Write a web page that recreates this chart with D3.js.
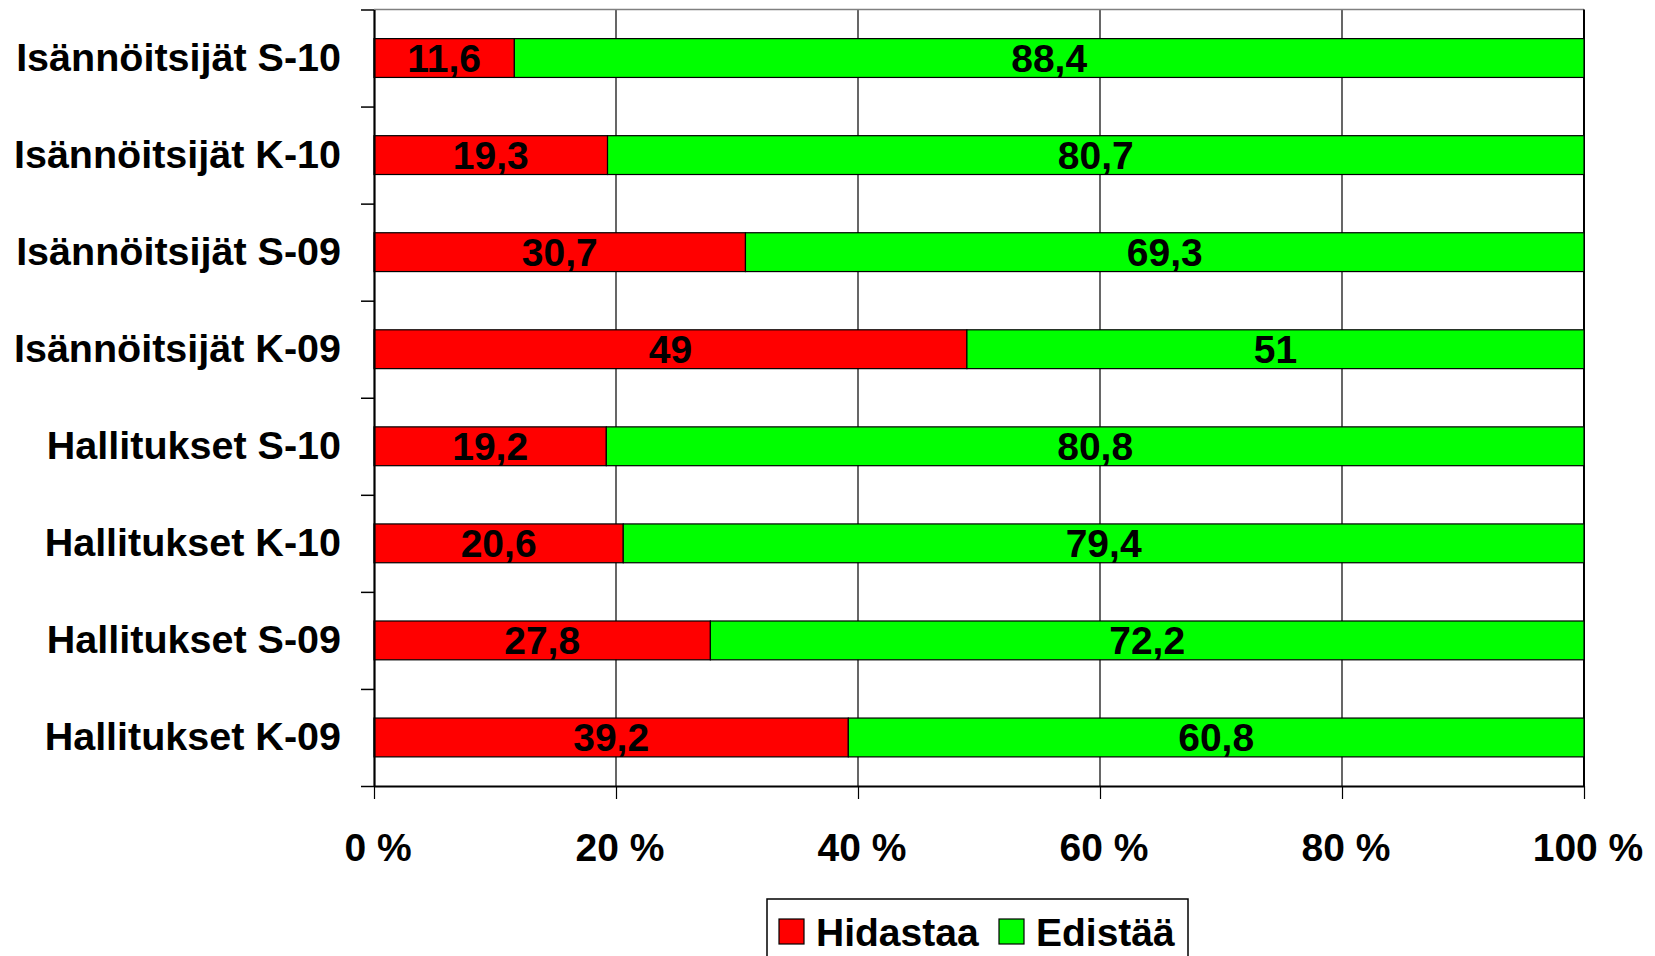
<!DOCTYPE html>
<html>
<head>
<meta charset="utf-8">
<script src="https://cdn.jsdelivr.net/npm/d3@7/dist/d3.min.js"></script>
<style>
  html, body { margin: 0; padding: 0; background: #fff; }
  svg { display: block; }
  text { font-family: "Liberation Sans", Arial, sans-serif; font-weight: bold; fill: #000; }
</style>
</head>
<body>
<svg id="chart" width="1655" height="956"></svg>
<script>
const categories = ["Isännöitsijät S-10", "Isännöitsijät K-10", "Isännöitsijät S-09", "Isännöitsijät K-09",
                    "Hallitukset S-10", "Hallitukset K-10", "Hallitukset S-09", "Hallitukset K-09"];
const hidastaa = [11.6, 19.3, 30.7, 49, 19.2, 20.6, 27.8, 39.2];
const edistaa  = [88.4, 80.7, 69.3, 51, 80.8, 79.4, 72.2, 60.8];
const seriesNames = ["Hidastaa", "Edistää"];
const seriesColors = ["#FF0000", "#00FF00"];
const xTicks = [0, 20, 40, 60, 80, 100];

(function () {
const svg = d3.select("#chart");
const pLeft = 374, pRight = 1584, pTop = 9.5, pBottom = 786;
const fs = 39, fsCat = 39.5;

const x = d3.scaleLinear().domain([0, 100]).range([pLeft, pRight]);
const y = d3.scaleBand().domain(categories).range([pTop, pBottom]).paddingInner(0.6).paddingOuter(0.3);
const yIdx = d3.scaleLinear().domain([0, categories.length]).range([pTop, pBottom]);

// gridlines
svg.append("g").selectAll("line").data(xTicks.filter(t => t > 0 && t < 100)).join("line")
  .attr("x1", d => x(d)).attr("x2", d => x(d)).attr("y1", pTop).attr("y2", pBottom)
  .attr("stroke", "#000").attr("stroke-width", 1.2);

// top border
svg.append("line").attr("x1", pLeft).attr("x2", pRight).attr("y1", pTop).attr("y2", pTop)
  .attr("stroke", "#808080").attr("stroke-width", 1.5);
// right border
svg.append("line").attr("x1", pRight).attr("x2", pRight).attr("y1", pTop).attr("y2", pBottom)
  .attr("stroke", "#000").attr("stroke-width", 2);

// stacked data
const rows = categories.map((c, i) => ({ cat: c, Hidastaa: hidastaa[i], "Edistää": edistaa[i] }));
const stack = d3.stack().keys(seriesNames)(rows);

const gBars = svg.append("g");
stack.forEach((layer, si) => {
  gBars.append("g").selectAll("rect").data(layer).join("rect")
    .attr("x", d => x(d[0]))
    .attr("width", d => x(d[1]) - x(d[0]))
    .attr("y", d => y(d.data.cat))
    .attr("height", y.bandwidth())
    .attr("fill", seriesColors[si])
    .attr("stroke", "#000").attr("stroke-width", 1.2);
});

// bar labels
const fmt = v => String(v).replace(".", ",");
stack.forEach((layer, si) => {
  svg.append("g").selectAll("text").data(layer).join("text")
    .attr("x", d => (x(d[0]) + x(d[1])) / 2)
    .attr("y", d => y(d.data.cat) + y.bandwidth() / 2 + 13.5)
    .attr("text-anchor", "middle")
    .attr("font-size", fs)
    .text(d => fmt(d.data[seriesNames[si]]));
});

// left axis with ticks at category boundaries
const gy = svg.append("g").attr("transform", `translate(${pLeft},0)`)
  .call(d3.axisLeft(yIdx).tickValues(d3.range(categories.length + 1)).tickSize(13).tickSizeOuter(0).tickFormat(""));
gy.select(".domain").attr("stroke", "#000").attr("stroke-width", 2.2);
gy.selectAll(".tick line").attr("stroke", "#000").attr("stroke-width", 1.5);

// category labels
svg.append("g").selectAll("text").data(categories).join("text")
  .attr("x", 341)
  .attr("y", d => y(d) + y.bandwidth() / 2 + 13)
  .attr("text-anchor", "end")
  .attr("font-size", fsCat)
  .text(d => d);

// bottom axis
const gx = svg.append("g").attr("transform", `translate(0,${pBottom})`)
  .call(d3.axisBottom(x).tickValues(xTicks).tickSize(13).tickSizeOuter(0).tickFormat(""));
gx.select(".domain").attr("stroke", "#000").attr("stroke-width", 2.2);
gx.selectAll(".tick line").attr("stroke", "#000").attr("stroke-width", 1.2);

svg.append("g").selectAll("text").data(xTicks).join("text")
  .attr("x", d => x(d) + 4)
  .attr("y", 860.5)
  .attr("text-anchor", "middle")
  .attr("font-size", fs)
  .text(d => d + " %");

// legend
const lg = svg.append("g");
lg.append("rect").attr("x", 767).attr("y", 899).attr("width", 421).attr("height", 70)
  .attr("fill", "#fff").attr("stroke", "#000").attr("stroke-width", 1.5);
const legendX = [779, 999];
seriesNames.forEach((name, i) => {
  lg.append("rect").attr("x", legendX[i]).attr("y", 919).attr("width", 25).attr("height", 25)
    .attr("fill", seriesColors[i]).attr("stroke", "#000").attr("stroke-width", 1.2);
  lg.append("text")
    .attr("x", legendX[i] + 37)
    .attr("y", 946)
    .attr("font-size", fs)
    .text(name);
});
})();
</script>
</body>
</html>
